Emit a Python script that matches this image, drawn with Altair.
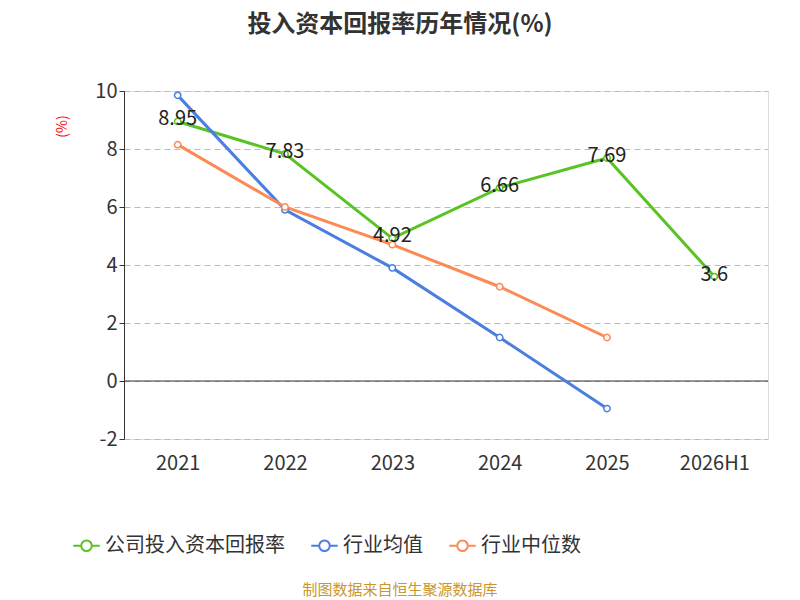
import pandas as pd
import altair as alt

years = ["2021", "2022", "2023", "2024", "2025", "2026H1"]
company = [8.95, 7.83, 4.92, 6.66, 7.69, 3.6]
ind_mean = [9.85, 5.9, 3.9, 1.5, -0.95]
ind_median = [8.15, 6.0, 4.7, 3.25, 1.5]
series = ["公司投入资本回报率", "行业均值", "行业中位数"]
colors = ["#58c322", "#4a7ee0", "#fd8a55"]

rows = []
for name, vals in zip(series, [company, ind_mean, ind_median]):
    for y, v in zip(years, vals):
        rows.append({"year": y, "value": v, "series": name})
df = pd.DataFrame(rows)
df_co = df[df["series"] == series[0]]

x = alt.X("year:N", sort=years, title=None,
          scale=alt.Scale(type="point", padding=0.5),
          axis=alt.Axis(labelAngle=0, labelFontSize=20, labelColor="#333",
                        ticks=False, domain=False, grid=False, labelPadding=14))
y = alt.Y("value:Q", title="(%)",
          scale=alt.Scale(domain=[-2, 10], nice=False),
          axis=alt.Axis(values=[-2, 0, 2, 4, 6, 8, 10], labelFontSize=20, labelColor="#333",
                        labelExpr="replace(datum.label, '−', '-')",
                        gridDash=[6, 4], gridColor="#bbb", domainColor="#333", tickColor="#333",
                        titleColor="red", titleFontSize=14, titleFontWeight="normal",
                        titleAngle=-90, titleX=-62, titleY=35, titleAlign="center",
                        titleBaseline="middle"))

color = alt.Color("series:N", sort=series,
                  scale=alt.Scale(domain=series, range=colors),
                  legend=alt.Legend(title=None, orient="none", direction="horizontal",
                                    legendX=-52, legendY=440, labelFontSize=20, labelLimit=300,
                                    labelColor="#333", symbolType="M-1,0L-0.4,0M0.4,0L1,0M0.4,0A0.4,0.4 0 1,1 -0.4,0A0.4,0.4 0 1,1 0.4,0",
                                    symbolSize=700, symbolStrokeWidth=2, symbolFillColor="white",
                                    columnPadding=22))

lines = alt.Chart(df).mark_line(strokeWidth=3).encode(x=x, y=y, color=color)
points = alt.Chart(df).mark_point(filled=False, fill="white", fillOpacity=1, size=40,
                                  strokeWidth=1.5, opacity=1).encode(
    x=x, y=y, color=alt.Color("series:N", sort=series, scale=alt.Scale(domain=series, range=colors), legend=None))
zero = alt.Chart(pd.DataFrame({"z": [0]})).mark_rule(color="#333").encode(y="z:Q")
labels = alt.Chart(df_co).mark_text(fontSize=20, color="#222", dy=-2).encode(
    x=x, y=y, text=alt.Text("value:Q"))

footer = alt.Chart(pd.DataFrame({"t": ["制图数据来自恒生聚源数据库"]})).mark_text(
    fontSize=15, color="#c9962f").encode(x=alt.value(276), y=alt.value(499), text="t:N")

chart = (
    alt.layer(zero, lines, points, labels, footer)
    .properties(
        width=644, height=348,
        autosize=alt.AutoSizeParams(type="none"),
        padding={"left": 116, "top": 83, "right": 24, "bottom": 160},
        title=alt.Title("投入资本回报率历年情况(%)", fontSize=24, fontWeight="bold",
                        color="#333", anchor="middle", dx=-46, offset=44),
    )
    .configure_view(strokeWidth=0, strokeOpacity=0)
    .configure(font="Noto Sans CJK SC")
)

chart.save("out.html", embed_options={"renderer": "svg", "actions": False})
